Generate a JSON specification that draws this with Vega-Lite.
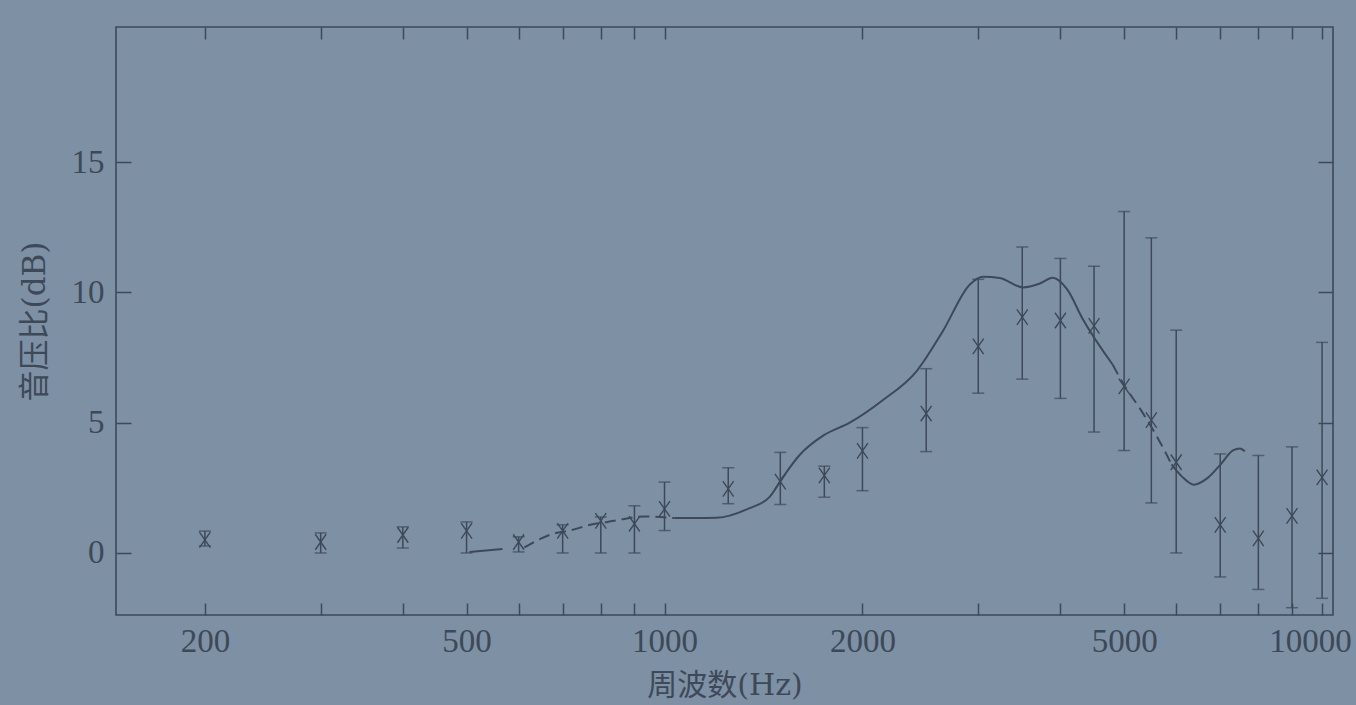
{
  "$schema": "https://vega.github.io/schema/vega-lite/v6.json",
  "width": 1217,
  "height": 588,
  "autosize": {"type": "none"},
  "padding": {"left": 116, "top": 27, "right": 23, "bottom": 90},
  "background": "#7e90a4",
  "config": {
    "view": {"stroke": "#3d4958", "strokeWidth": 1.6},
    "font": "Liberation Serif, Noto Sans CJK SC",
    "axis": {
      "domain": false,
      "grid": false,
      "tickColor": "#3d4958",
      "tickWidth": 1.5,
      "labelColor": "#3d4958",
      "labelFont": "Liberation Serif",
      "labelFontSize": 33,
      "titleColor": "#3d4958",
      "titleFont": "DejaVu Serif, Noto Sans CJK SC",
      "titleFontWeight": "normal",
      "labelFlush": false,
      "labelOverlap": false
    }
  },
  "datasets": {
    "measured": [
      {"f": 200, "mean": 0.5, "lo": 0.27, "hi": 0.84},
      {"f": 300, "mean": 0.42, "lo": 0.0, "hi": 0.77},
      {"f": 400, "mean": 0.69, "lo": 0.19, "hi": 1.0},
      {"f": 500, "mean": 0.85, "lo": 0.0, "hi": 1.19},
      {"f": 600, "mean": 0.42, "lo": 0.04, "hi": 0.62},
      {"f": 700, "mean": 0.85, "lo": 0.0, "hi": 1.08},
      {"f": 800, "mean": 1.23, "lo": 0.0, "hi": 1.38},
      {"f": 900, "mean": 1.12, "lo": 0.0, "hi": 1.81},
      {"f": 1000, "mean": 1.69, "lo": 0.86, "hi": 2.72},
      {"f": 1250, "mean": 2.46, "lo": 1.89, "hi": 3.27},
      {"f": 1500, "mean": 2.74, "lo": 1.86, "hi": 3.86},
      {"f": 1750, "mean": 2.98, "lo": 2.14, "hi": 3.33},
      {"f": 2000, "mean": 3.92, "lo": 2.39, "hi": 4.81},
      {"f": 2500, "mean": 5.35, "lo": 3.89, "hi": 7.07},
      {"f": 3000, "mean": 7.93, "lo": 6.13, "hi": 10.5},
      {"f": 3500, "mean": 9.05, "lo": 6.67, "hi": 11.74},
      {"f": 4000, "mean": 8.92, "lo": 5.93, "hi": 11.3},
      {"f": 4500, "mean": 8.71, "lo": 4.64, "hi": 11.0},
      {"f": 5000, "mean": 6.39, "lo": 3.93, "hi": 13.1},
      {"f": 5500, "mean": 5.1, "lo": 1.92, "hi": 12.09},
      {"f": 6000, "mean": 3.48, "lo": 0.0, "hi": 8.55},
      {"f": 7000, "mean": 1.08, "lo": -0.92, "hi": 3.8},
      {"f": 8000, "mean": 0.56, "lo": -1.4, "hi": 3.74},
      {"f": 9000, "mean": 1.42, "lo": -2.1, "hi": 4.07},
      {"f": 10000, "mean": 2.9, "lo": -1.74, "hi": 8.08}
    ],
    "curveSolid": [
      {"seg": 1, "f": 505, "db": 0.04},
      {"seg": 1, "f": 567, "db": 0.15},
      {"seg": 3, "f": 1035, "db": 1.34},
      {"seg": 3, "f": 1200, "db": 1.35},
      {"seg": 3, "f": 1347, "db": 1.72},
      {"seg": 3, "f": 1445, "db": 2.15},
      {"seg": 3, "f": 1513, "db": 2.9},
      {"seg": 3, "f": 1605, "db": 3.76},
      {"seg": 3, "f": 1745, "db": 4.51},
      {"seg": 3, "f": 1913, "db": 5.0},
      {"seg": 3, "f": 2147, "db": 5.86},
      {"seg": 3, "f": 2420, "db": 6.99},
      {"seg": 3, "f": 2650, "db": 8.51},
      {"seg": 3, "f": 2913, "db": 10.3},
      {"seg": 3, "f": 3050, "db": 10.6},
      {"seg": 3, "f": 3236, "db": 10.55},
      {"seg": 3, "f": 3509, "db": 10.19},
      {"seg": 3, "f": 3722, "db": 10.34},
      {"seg": 3, "f": 3895, "db": 10.56},
      {"seg": 3, "f": 4091, "db": 10.13},
      {"seg": 3, "f": 4327, "db": 8.97},
      {"seg": 3, "f": 4802, "db": 7.23},
      {"seg": 5, "f": 5903, "db": 3.4},
      {"seg": 5, "f": 6140, "db": 2.9},
      {"seg": 5, "f": 6380, "db": 2.62},
      {"seg": 5, "f": 6700, "db": 2.88},
      {"seg": 5, "f": 7000, "db": 3.38},
      {"seg": 5, "f": 7320, "db": 3.94},
      {"seg": 5, "f": 7500, "db": 4.01},
      {"seg": 5, "f": 7630, "db": 3.9}
    ],
    "curveDashed": [
      {"seg": 2, "f": 612, "db": 0.21},
      {"seg": 2, "f": 680, "db": 0.75},
      {"seg": 2, "f": 717, "db": 0.86},
      {"seg": 2, "f": 777, "db": 1.1},
      {"seg": 2, "f": 816, "db": 1.18},
      {"seg": 2, "f": 860, "db": 1.29},
      {"seg": 2, "f": 932, "db": 1.4},
      {"seg": 2, "f": 966, "db": 1.39},
      {"seg": 2, "f": 1035, "db": 1.34},
      {"seg": 4, "f": 4802, "db": 7.23},
      {"seg": 4, "f": 4985, "db": 6.49},
      {"seg": 4, "f": 5301, "db": 5.49},
      {"seg": 4, "f": 5757, "db": 3.94},
      {"seg": 4, "f": 5903, "db": 3.4}
    ]
  },
  "resolve": {"axis": {"x": "independent", "y": "independent"}},
  "layer": [
    {
      "data": {"name": "measured"},
      "mark": {"type": "rule", "color": "#3d4958", "strokeWidth": 1.5},
      "encoding": {
        "x": {
          "field": "f",
          "type": "quantitative",
          "scale": {"type": "log", "domain": [146.5, 10390], "nice": false},
          "axis": {
            "orient": "bottom",
            "values": [200, 300, 400, 500, 600, 700, 800, 900, 1000, 2000, 3000, 4000, 5000, 6000, 7000, 8000, 9000, 10000],
            "format": "d",
            "labelExpr": "indexof([200, 500, 1000, 2000, 5000, 10000], datum.value) >= 0 ? datum.label : ''",
            "labelOffset": {"condition": {"test": "datum.value == 10000", "value": -12}, "value": 0},
            "tickSize": -12,
            "labelPadding": 22,
            "title": "周波数(Hz)",
            "titleFontSize": 30,
            "titlePadding": 12
          }
        },
        "y": {
          "field": "lo",
          "type": "quantitative",
          "scale": {"domain": [-2.38, 20.18], "nice": false, "zero": false},
          "axis": {
            "orient": "left",
            "values": [0, 5, 10, 15],
            "tickSize": -15,
            "labelPadding": 27,
            "title": "音压比(dB)",
            "titleFontSize": 31,
            "titlePadding": 20
          }
        },
        "y2": {"field": "hi"}
      }
    },
    {
      "data": {"name": "measured"},
      "mark": {"type": "tick", "orient": "horizontal", "color": "#3d4958", "size": 12, "thickness": 1.5},
      "encoding": {
        "x": {
          "field": "f",
          "type": "quantitative",
          "scale": {"type": "log", "domain": [146.5, 10390], "nice": false},
          "axis": {
            "orient": "top",
            "values": [200, 300, 400, 500, 600, 700, 800, 900, 1000, 2000, 3000, 4000, 5000, 6000, 7000, 8000, 9000, 10000],
            "labels": false,
            "tickSize": -12,
            "title": null
          }
        },
        "y": {
          "field": "hi",
          "type": "quantitative",
          "scale": {"domain": [-2.38, 20.18], "nice": false, "zero": false},
          "axis": {
            "orient": "right",
            "values": [0, 5, 10, 15],
            "labels": false,
            "tickSize": -15,
            "title": null
          }
        }
      }
    },
    {
      "data": {"name": "measured"},
      "mark": {"type": "tick", "orient": "horizontal", "color": "#3d4958", "size": 12, "thickness": 1.5},
      "encoding": {
        "x": {"field": "f", "type": "quantitative", "scale": {"type": "log", "domain": [146.5, 10390], "nice": false}, "axis": null},
        "y": {"field": "lo", "type": "quantitative", "axis": null}
      }
    },
    {
      "data": {"name": "measured"},
      "mark": {
        "type": "point",
        "shape": "M -0.7 -1 L 0.7 1 M -0.7 1 L 0.7 -1",
        "size": 240,
        "filled": false,
        "stroke": "#3d4958",
        "strokeWidth": 1.4,
        "opacity": 1
      },
      "encoding": {
        "x": {"field": "f", "type": "quantitative", "scale": {"type": "log", "domain": [146.5, 10390], "nice": false}, "axis": null},
        "y": {"field": "mean", "type": "quantitative", "axis": null}
      }
    },
    {
      "data": {"name": "curveSolid"},
      "mark": {"type": "line", "interpolate": "monotone", "color": "#3d4958", "strokeWidth": 2},
      "encoding": {
        "x": {"field": "f", "type": "quantitative", "scale": {"type": "log", "domain": [146.5, 10390], "nice": false}, "axis": null},
        "y": {"field": "db", "type": "quantitative", "axis": null},
        "detail": {"field": "seg", "type": "nominal"}
      }
    },
    {
      "data": {"name": "curveDashed"},
      "mark": {"type": "line", "interpolate": "monotone", "color": "#3d4958", "strokeWidth": 2, "strokeDash": [11, 6]},
      "encoding": {
        "x": {"field": "f", "type": "quantitative", "scale": {"type": "log", "domain": [146.5, 10390], "nice": false}, "axis": null},
        "y": {"field": "db", "type": "quantitative", "axis": null},
        "detail": {"field": "seg", "type": "nominal"}
      }
    },
    {
      "mark": {"type": "rule", "color": "#3d4958", "strokeWidth": 1.6},
      "encoding": {
        "y": {"datum": 0, "type": "quantitative", "axis": null}
      }
    }
  ]
}
